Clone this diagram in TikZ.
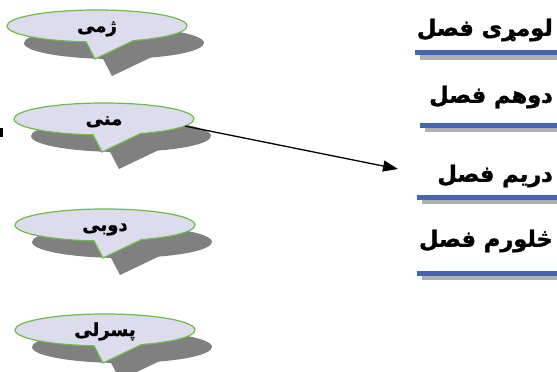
\documentclass[tikz,border=0pt]{standalone}
\usepackage{fontspec}
\newfontfamily\pashto[Script=Arabic,BoldFeatures={FakeBold=1.5}]{DejaVu Sans}
\TeXXeTstate=1
\usetikzlibrary{shapes.geometric, arrows.meta, positioning}
\definecolor{bubblefill}{HTML}{DDDBEE}
\definecolor{bubbleline}{HTML}{6CBD45}
\definecolor{barblue}{HTML}{4466B0}
\definecolor{bargray}{HTML}{B0B0B0}
\definecolor{shadowgray}{HTML}{808080}
\tikzset{
  bubble/.style={draw=bubbleline, fill=bubblefill, line width=1.2pt, line join=miter},
  season/.style={ellipse, minimum width=180pt, minimum height=32pt, inner sep=0pt,
    font=\pashto\bfseries\fontsize{18}{21}\selectfont},
  chapter/.style={anchor=east, inner sep=0pt, font=\pashto\bfseries\fontsize{22.5}{26}\selectfont},
}
% speech bubble outline round (0,0)
\newcommand{\bubblepath}{(36.6,-14.6) arc[start angle=-66, end angle=263, x radius=90, y radius=16] -- (-2,-33) -- cycle}
\begin{document}
\begin{tikzpicture}[x=1pt, y=1pt]
  \useasboundingbox (0,0) rectangle (557,372);
  \foreach \n/\cx/\cy/\txt in {c1/97/346/ژمی, c2/104/253/منی, c3/105/147/دوبی, c4/105/42/پسرلی} {
    \fill[shadowgray, shift={(\cx+17,\cy-17)}] \bubblepath;
    \draw[bubble, shift={(\cx,\cy)}] \bubblepath;
    \node[season] (\n) at (\cx,\cy) {\raisebox{-6pt}[0pt][0pt]{\beginR\txt\endR}};
  }
  % cut-off mark at the left edge
  \fill (0,235) rectangle (2.5,244);

  % chapter titles and underlines
  \node[chapter] (f1) at (553,342) {\beginR لومړی فصل\endR};
  \node[chapter] (f2) at (553,275) {\beginR دوهم فصل\endR};
  \node[chapter] (f3) at (553,196) {\beginR دریم فصل\endR};
  \node[chapter] (f4) at (553,131) {\beginR څلورم فصل\endR};
  \foreach \y/\x in {319/415, 246.5/420, 174.5/417, 98.5/417} {
    \fill[bargray] (\x+5,\y-7) rectangle (557,\y-2);
    \fill[barblue] (\x,\y-2.5) rectangle (557,\y+2.5);
  }

  \coordinate (arrowend) at (398,203);
  \draw[-{Triangle[length=15pt,width=11pt]}, line width=1.3pt] (c2.-5) -- (arrowend);
\end{tikzpicture}
\end{document}
